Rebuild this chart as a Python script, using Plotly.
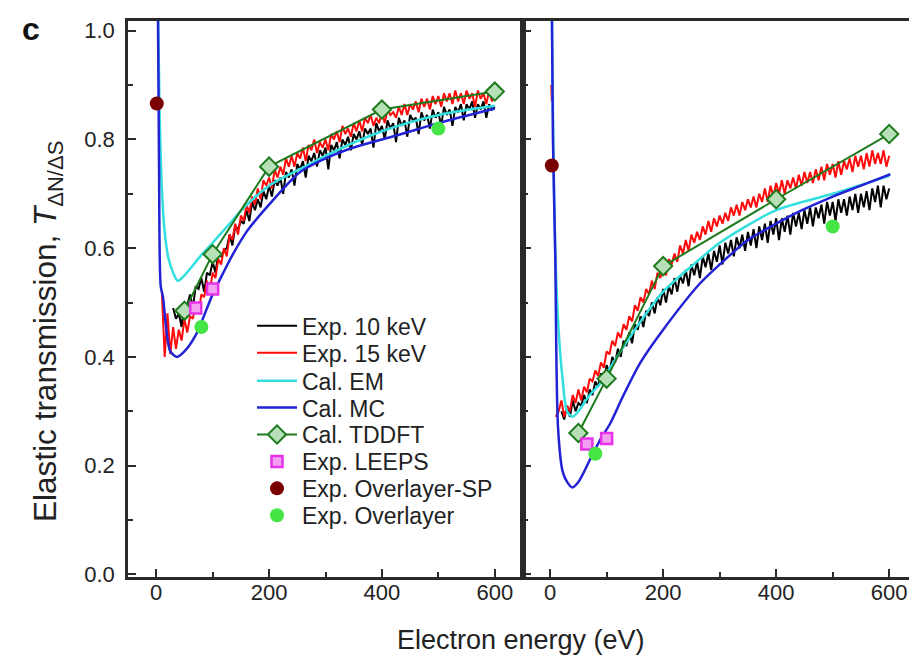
import plotly.graph_objects as go

# ---------------- data ----------------
# Left panel
L_exp10_x = list(range(30, 601, 5))
L_exp10_y = [0.49, 0.47, 0.48, 0.455, 0.50, 0.495, 0.515, 0.49, 0.53, 0.525,
             0.545, 0.52, 0.555, 0.55, 0.575, 0.555, 0.59, 0.585, 0.595, 0.60,
             0.625, 0.605, 0.64, 0.635, 0.65, 0.645, 0.67, 0.65, 0.685, 0.67,
             0.69, 0.675, 0.705, 0.69, 0.715, 0.695, 0.725, 0.715, 0.73, 0.70,
             0.74, 0.73, 0.745, 0.715, 0.755, 0.745, 0.76, 0.73, 0.77, 0.76,
             0.775, 0.75, 0.78, 0.77, 0.785, 0.745, 0.79, 0.78, 0.795, 0.765,
             0.80, 0.79, 0.805, 0.78, 0.81, 0.80, 0.815, 0.79, 0.82, 0.81,
             0.82, 0.785, 0.83, 0.815, 0.825, 0.80, 0.835, 0.82, 0.83, 0.795,
             0.84, 0.825, 0.835, 0.805, 0.845, 0.835, 0.84, 0.81, 0.85, 0.835,
             0.845, 0.82, 0.855, 0.84, 0.85, 0.825, 0.86, 0.845, 0.855, 0.825,
             0.86, 0.85, 0.865, 0.835, 0.865, 0.855, 0.87, 0.84, 0.865, 0.855,
             0.87, 0.84, 0.865, 0.855, 0.86]
L_exp15_x = [10, 15, 20, 25, 30, 35, 40, 45] + list(range(50, 601, 5))
L_exp15_y = [0.52, 0.40, 0.48, 0.405, 0.455, 0.415, 0.45, 0.43,
             0.47, 0.445, 0.475, 0.47, 0.50, 0.48, 0.515, 0.51, 0.54, 0.52,
             0.555, 0.545, 0.58, 0.57, 0.60, 0.585, 0.625, 0.615, 0.645, 0.625,
             0.66, 0.65, 0.68, 0.665, 0.695, 0.68, 0.71, 0.69, 0.725, 0.715,
             0.73, 0.71, 0.745, 0.73, 0.75, 0.735, 0.765, 0.75, 0.77, 0.75,
             0.775, 0.765, 0.785, 0.76, 0.79, 0.78, 0.80, 0.775, 0.795, 0.785,
             0.80, 0.78, 0.81, 0.80, 0.815, 0.795, 0.825, 0.81, 0.82, 0.805,
             0.83, 0.815, 0.835, 0.815, 0.84, 0.83, 0.845, 0.825, 0.84, 0.83,
             0.85, 0.83, 0.855, 0.845, 0.85, 0.84, 0.86, 0.845, 0.865, 0.845,
             0.865, 0.855, 0.87, 0.85, 0.875, 0.86, 0.875, 0.855, 0.88, 0.865,
             0.88, 0.86, 0.885, 0.87, 0.885, 0.865, 0.89, 0.87, 0.885, 0.865,
             0.89, 0.875, 0.885, 0.86, 0.89, 0.875, 0.885, 0.865, 0.89, 0.87,
             0.88]
L_em_x = [3, 6, 10, 15, 22, 30, 38, 50, 78, 100, 130, 154, 200, 273, 300, 400, 500, 600]
L_em_y = [1.05, 0.85, 0.71, 0.63, 0.58, 0.555, 0.54, 0.55, 0.585, 0.61, 0.645, 0.673,
          0.715, 0.755, 0.77, 0.815, 0.845, 0.862]
L_mc_x = [3, 5, 8, 12, 18, 25, 37, 50, 70, 100, 119, 136, 160, 200, 255, 300, 343, 400, 432, 500, 600]
L_mc_y = [1.05, 0.75, 0.53, 0.51, 0.45, 0.41, 0.40, 0.41, 0.44, 0.515, 0.555, 0.589, 0.63,
          0.68, 0.74, 0.765, 0.783, 0.80, 0.809, 0.83, 0.857]
L_td_x = [50, 100, 200, 400, 600]
L_td_y = [0.485, 0.589, 0.75, 0.855, 0.888]
L_leeps_x = [70, 100]
L_leeps_y = [0.49, 0.525]
L_sp_x = [1]
L_sp_y = [0.866]
L_ov_x = [80, 500]
L_ov_y = [0.455, 0.82]

# Right panel
R_exp10_x = list(range(20, 601, 5))
R_exp10_y = [0.30, 0.285, 0.31, 0.29, 0.32, 0.30, 0.315, 0.31, 0.33, 0.315,
             0.34, 0.33, 0.355, 0.345, 0.37, 0.355, 0.385, 0.37, 0.40, 0.39,
             0.415, 0.40, 0.43, 0.42, 0.445, 0.425, 0.46, 0.45, 0.475, 0.455,
             0.485, 0.475, 0.50, 0.48, 0.51, 0.495, 0.525, 0.50, 0.53, 0.515,
             0.545, 0.52, 0.55, 0.535, 0.56, 0.53, 0.57, 0.55, 0.575, 0.545,
             0.585, 0.565, 0.59, 0.56, 0.595, 0.575, 0.605, 0.57, 0.61, 0.59,
             0.615, 0.585, 0.62, 0.60, 0.625, 0.595, 0.63, 0.605, 0.635, 0.60,
             0.64, 0.615, 0.645, 0.61, 0.65, 0.625, 0.655, 0.615, 0.655, 0.63,
             0.66, 0.625, 0.665, 0.64, 0.665, 0.635, 0.67, 0.645, 0.675, 0.64,
             0.675, 0.655, 0.68, 0.645, 0.685, 0.66, 0.685, 0.65, 0.69, 0.665,
             0.69, 0.66, 0.695, 0.67, 0.70, 0.665, 0.70, 0.675, 0.705, 0.67,
             0.71, 0.685, 0.715, 0.675, 0.715, 0.69, 0.71]
R_exp15_x = [2, 3, None, 10] + list(range(15, 601, 5))
R_exp15_y = [0.90, 0.87, None, 0.29,
             0.30, 0.32, 0.29, 0.31, 0.30, 0.33, 0.315, 0.34, 0.32, 0.345,
             0.335, 0.36, 0.355, 0.375, 0.365, 0.39, 0.38, 0.41, 0.405, 0.43,
             0.42, 0.445, 0.435, 0.46, 0.45, 0.475, 0.465, 0.495, 0.485, 0.51,
             0.50, 0.525, 0.515, 0.54, 0.525, 0.555, 0.545, 0.565, 0.55, 0.58,
             0.57, 0.59, 0.575, 0.605, 0.59, 0.615, 0.595, 0.625, 0.61, 0.63,
             0.615, 0.64, 0.625, 0.65, 0.63, 0.655, 0.64, 0.66, 0.645, 0.665,
             0.65, 0.675, 0.66, 0.68, 0.66, 0.685, 0.67, 0.69, 0.675, 0.695,
             0.675, 0.70, 0.685, 0.71, 0.685, 0.715, 0.695, 0.72, 0.70, 0.725,
             0.70, 0.725, 0.71, 0.73, 0.71, 0.735, 0.715, 0.74, 0.72, 0.74,
             0.72, 0.745, 0.725, 0.75, 0.725, 0.755, 0.735, 0.755, 0.73, 0.76,
             0.735, 0.76, 0.745, 0.765, 0.74, 0.77, 0.75, 0.77, 0.745, 0.775,
             0.75, 0.78, 0.755, 0.775, 0.755, 0.78, 0.75, 0.77]
R_em_x = [3, 5, 9, 15, 22, 30, 40, 50, 70, 88, 100, 150, 200, 265, 300, 400, 500, 600]
R_em_y = [1.05, 0.85, 0.60, 0.45, 0.36, 0.30, 0.29, 0.30, 0.33, 0.35, 0.37, 0.45, 0.52,
          0.58, 0.61, 0.67, 0.70, 0.733]
R_mc_x = [3, 5, 9, 14, 22, 30, 39, 50, 70, 90, 106, 130, 160, 200, 265, 300, 350, 400, 442, 500, 550, 602]
R_mc_y = [1.05, 0.80, 0.59, 0.27, 0.19, 0.17, 0.16, 0.17, 0.21, 0.25, 0.277, 0.33, 0.39, 0.45,
          0.535, 0.57, 0.615, 0.645, 0.668, 0.695, 0.715, 0.736]
R_td_x = [50, 100, 200, 400, 600]
R_td_y = [0.26, 0.36, 0.567, 0.69, 0.81]
R_leeps_x = [65, 100]
R_leeps_y = [0.24, 0.25]
R_sp_x = [3]
R_sp_y = [0.752]
R_ov_x = [80, 500]
R_ov_y = [0.222, 0.64]

y_ticks = [0.0, 0.2, 0.4, 0.6, 0.8, 1.0]
x_ticks = [0, 200, 400, 600]
legend_names = ["Exp. 10 keV", "Exp. 15 keV", "Cal. EM", "Cal. MC", "Cal. TDDFT",
                "Exp. LEEPS", "Exp. Overlayer-SP", "Exp. Overlayer"]

# ---------------- styles ----------------
FONT = "Liberation Sans, Arial, sans-serif"
C_AX = "#2a2a2a"
C_TXT = "#222222"
C_BLACK = "#000000"
C_RED = "#ff0a0a"
C_CYAN = "#33dede"
C_BLUE = "#2323d6"
C_GREEN = "#1d7a1d"
C_MAG = "#e632e6"
C_DRED = "#7a0000"
C_LGREEN = "#44e544"

W, H = 909, 657
VS = 1.0 / 0.985          # vertical layout correction measured on the rendered page


def py(p):                # target pixel row (from top) -> paper fraction
    return (H - p * VS) / H


LEG_ROWS_PX = [325, 352, 380, 407, 434, 461, 488, 515]
LEG_KEYS = ["legend"] + ["legend%d" % i for i in range(2, 9)]

fig = go.Figure()


def add_panel(xa, ya, d, show):
    (e10x, e10y, e15x, e15y, emx, emy, mcx, mcy, tdx, tdy,
     lx, ly, spx, spy, ovx, ovy) = d
    specs = [
        dict(x=e10x, y=e10y, mode="lines", line=dict(color=C_BLACK, width=2)),
        dict(x=e15x, y=e15y, mode="lines", line=dict(color=C_RED, width=2)),
        dict(x=emx, y=emy, mode="lines",
             line=dict(color=C_CYAN, width=2.5, shape="spline", smoothing=0.8)),
        dict(x=mcx, y=mcy, mode="lines",
             line=dict(color=C_BLUE, width=2.5, shape="spline", smoothing=0.8)),
        dict(x=tdx, y=tdy, mode="lines+markers", line=dict(color=C_GREEN, width=2),
             marker=dict(symbol="diamond", size=14, color="#b8e0b8",
                         line=dict(color=C_GREEN, width=2))),
        dict(x=lx, y=ly, mode="markers",
             marker=dict(symbol="square", size=11, color="#f3a0f3",
                         line=dict(color=C_MAG, width=2.5))),
        dict(x=spx, y=spy, mode="markers", cliponaxis=False,
             marker=dict(symbol="circle", size=14, color=C_DRED)),
        dict(x=ovx, y=ovy, mode="markers",
             marker=dict(symbol="circle", size=14, color=C_LGREEN)),
    ]
    for i, s in enumerate(specs):
        fig.add_trace(go.Scatter(name=legend_names[i], xaxis=xa, yaxis=ya, showlegend=show,
                                 legend=LEG_KEYS[i], **s))


add_panel("x", "y", (L_exp10_x, L_exp10_y, L_exp15_x, L_exp15_y, L_em_x, L_em_y,
                     L_mc_x, L_mc_y, L_td_x, L_td_y, L_leeps_x, L_leeps_y,
                     L_sp_x, L_sp_y, L_ov_x, L_ov_y), True)
add_panel("x2", "y2", (R_exp10_x, R_exp10_y, R_exp15_x, R_exp15_y, R_em_x, R_em_y,
                       R_mc_x, R_mc_y, R_td_x, R_td_y, R_leeps_x, R_leeps_y,
                       R_sp_x, R_sp_y, R_ov_x, R_ov_y), False)

xl0, xl1, xr1 = 128 / W, 523 / W, 1.0
yb, yt = py(577), py(19)

axis_line = dict(showline=True, linecolor=C_AX, linewidth=2.5, ticks="inside",
                 tickcolor=C_AX, tickwidth=2, ticklen=8, showgrid=False, zeroline=False,
                 tickfont=dict(family=FONT, size=22, color=C_TXT))
minor_x = dict(dtick=100, tick0=0, ticks="inside", ticklen=5, tickwidth=2, tickcolor=C_AX)
minor_y = dict(dtick=0.1, tick0=0, ticks="inside", ticklen=5, tickwidth=2, tickcolor=C_AX)

legends = {}
for key, ypx in zip(LEG_KEYS, LEG_ROWS_PX):
    legends[key] = dict(x=252 / W, y=py(ypx), xanchor="left", yanchor="middle",
                        bgcolor="rgba(255,255,255,0)", borderwidth=0,
                        font=dict(family=FONT, size=23, color=C_TXT), itemwidth=40)

fig.update_layout(
    width=W, height=H,
    margin=dict(l=0, r=0, t=0, b=0),
    paper_bgcolor="white", plot_bgcolor="white",
    font=dict(family=FONT, color=C_TXT),
    xaxis=dict(domain=[xl0, xl1], range=[-50, 650], tickvals=x_ticks, mirror=True,
               minor=minor_x, anchor="y", ticklabelstandoff=-6, **axis_line),
    yaxis=dict(domain=[yb, yt], range=[-0.005, 1.018], tickvals=y_ticks, tickformat=".1f",
               mirror=True, minor=minor_y, anchor="x", ticklabelstandoff=6, **axis_line),
    xaxis2=dict(domain=[xl1, xr1], range=[-48, 635], tickvals=x_ticks, mirror=True,
                minor=minor_x, anchor="y2", ticklabelstandoff=-6, **axis_line),
    yaxis2=dict(domain=[yb, yt], range=[-0.005, 1.018], tickvals=y_ticks, showticklabels=False,
                minor=minor_y, anchor="x2", **axis_line),
    annotations=[
        dict(text="<b>c</b>", x=31 / W, y=py(27), xref="paper", yref="paper",
             xanchor="center", yanchor="middle",
             showarrow=False, font=dict(family=FONT, size=32, color="#111111")),
        dict(text="Elastic transmission, <i>T</i><sub>ΔN/ΔS</sub>", x=48 / W, y=py(331),
             xref="paper", yref="paper", textangle=-90, showarrow=False,
             xanchor="center", yanchor="middle",
             font=dict(family=FONT, size=31.5, color=C_TXT)),
        dict(text="Electron energy (eV)", x=521 / W, y=py(640), xref="paper", yref="paper",
             xanchor="center", yanchor="middle",
             showarrow=False, font=dict(family=FONT, size=27, color=C_TXT)),
    ],
    **legends,
)

fig.write_html("out.html", config={"displayModeBar": False},
               post_script="document.body.style.margin='0';document.body.style.overflow='hidden';")
